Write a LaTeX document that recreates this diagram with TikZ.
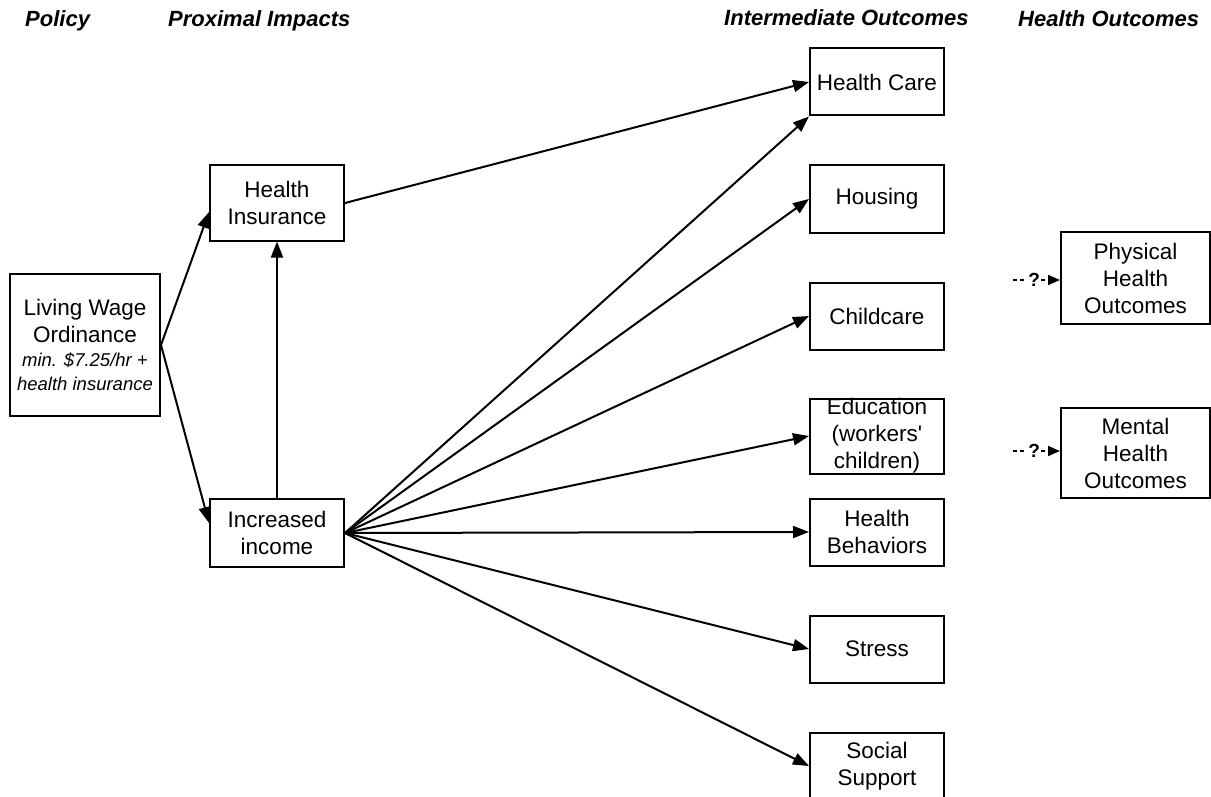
\documentclass[tikz,border=0pt]{standalone}
\usepackage{fontspec}
\setmainfont{Liberation Sans}
\usetikzlibrary{arrows.meta}

\begin{document}
\begin{tikzpicture}[x=1pt,y=-1pt,
  box/.style={draw,line width=2pt,align=center,inner sep=0pt,minimum width=134pt,minimum height=67pt,
    font=\fontsize{22.5}{27}\selectfont},
  head/.style={anchor=base west,inner sep=0pt,font=\fontsize{22}{26}\selectfont\bfseries\itshape},
  arrow/.style={line width=2pt,-{Triangle[length=16pt,width=12pt]}},
  qarrow/.style={line width=1.8pt,dash pattern=on 4pt off 3pt,-{Triangle[length=12pt,width=10pt]}},
  qmark/.style={inner sep=1.5pt,fill=white,font=\fontsize{19}{19}\selectfont\bfseries}]
  \useasboundingbox (0,0) rectangle (1211,797);
  \node[head] (policy) at (25,27) {Policy};
  \node[head] (proximal) at (168,27) {Proximal Impacts};
  \node[head] (intermediate) at (724,26) {Intermediate Outcomes};
  \node[head] (outcomes) at (1018,27) {Health Outcomes};
  \node[box,minimum width=150pt,minimum height=142pt] (lwo) at (85,345)
    {Living Wage\\Ordinance\\[-3pt]{\fontsize{18.5}{23}\selectfont\itshape min. \$7.25/hr +}\\[-3pt]{\fontsize{18.5}{23}\selectfont\itshape health insurance}};
  \node[box,minimum height=75pt] (hins) at (277,203) {Health\\Insurance};
  \node[box,minimum height=68pt] (income) at (277,533) {Increased\\income};
  \node[box] (hcare) at (877,82) {Health Care};
  \node[box] (housing) at (877,199) {Housing};
  \node[box] (childcare) at (877,316) {Childcare};
  \node[box,minimum height=75pt] (educ) at (877,436) {Education\\(workers\textquotesingle\\children)};
  \node[box] (behav) at (877,532) {Health\\Behaviors};
  \node[box] (stress) at (877,649) {Stress};
  \node[box] (support) at (877,766) {Social\\Support};
  \node[box,minimum width=149pt,minimum height=92pt] (phys) at (1135.5,278) {Physical\\Health\\Outcomes};
  \node[box,minimum width=149pt,minimum height=90pt] (mental) at (1135.5,453) {Mental\\Health\\Outcomes};
  \draw[arrow] (lwo.east) -- ([yshift=-9pt]hins.west);
  \draw[arrow] (lwo.east) -- ([yshift=10pt]income.west);
  \draw[arrow] (income.north) -- (hins.south);
  \draw[arrow] (hins.east) -- (hcare.west);
  \draw[arrow] (income.east) -- (hcare.south west);
  \draw[arrow] (income.east) -- (housing.west);
  \draw[arrow] (income.east) -- (childcare.west);
  \draw[arrow] (income.east) -- (educ.west);
  \draw[arrow] (income.east) -- (behav.west);
  \draw[arrow] (income.east) -- (stress.west);
  \draw[arrow] (income.east) -- (support.west);
  \coordinate (q1) at (1013,280);
  \coordinate (q2) at (1013,451);
  \draw[qarrow] (q1) -- node[qmark,pos=0.45] (qm1) {?} (phys.west |- q1);
  \draw[qarrow] (q2) -- node[qmark,pos=0.45] (qm2) {?} (mental.west |- q2);
\end{tikzpicture}
\end{document}
